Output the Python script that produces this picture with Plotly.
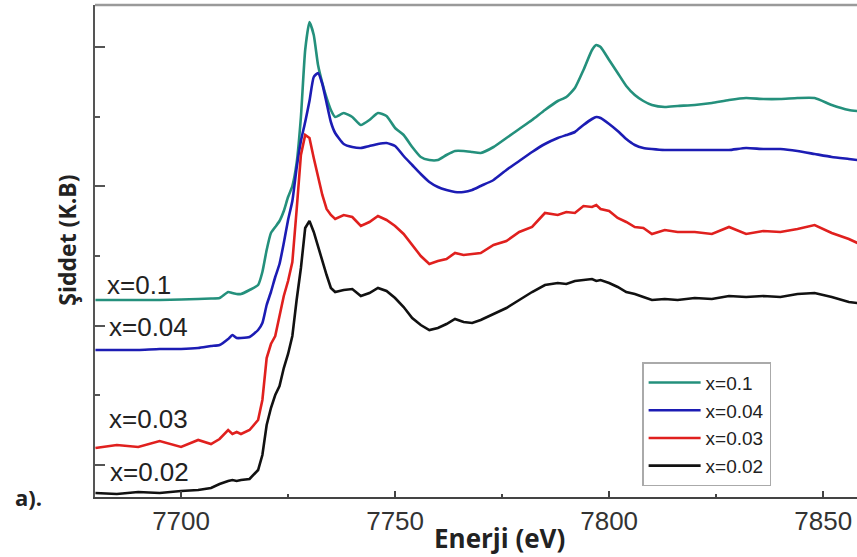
import plotly.graph_objects as go

# Photon energy grid (eV)
energy = [7680, 7685, 7690, 7695, 7700, 7704, 7707, 7709, 7711, 7712,
          7713, 7714, 7716, 7718, 7719, 7720, 7721, 7722, 7723, 7724,
          7725, 7726, 7727, 7728, 7729, 7730, 7731, 7732, 7733, 7734,
          7735, 7736, 7738, 7740, 7742, 7744, 7746, 7748, 7750, 7752,
          7754, 7756, 7758, 7760, 7762, 7764, 7766, 7768, 7770, 7773,
          7776, 7779, 7782, 7785, 7788, 7790, 7792, 7794, 7796, 7797,
          7798, 7800, 7802, 7804, 7806, 7808, 7810, 7813, 7816, 7820,
          7824, 7828, 7832, 7836, 7840, 7844, 7848, 7852, 7856, 7858]

# Stacked intensity (a.u.), one list per composition
int_x010 = [2.00, 2.00, 2.00, 2.00, 2.005, 2.01, 2.015, 2.02, 2.08, 2.07,
            2.06, 2.06, 2.10, 2.15, 2.28, 2.50, 2.67, 2.73, 2.79, 2.89,
            3.03, 3.14, 3.37, 3.83, 4.50, 4.78, 4.65, 4.35, 4.17, 4.02,
            3.90, 3.83, 3.87, 3.83, 3.75, 3.80, 3.87, 3.84, 3.72, 3.65,
            3.53, 3.43, 3.40, 3.40, 3.45, 3.49, 3.49, 3.48, 3.47, 3.53,
            3.62, 3.71, 3.80, 3.90, 3.99, 4.03, 4.12, 4.30, 4.50, 4.55,
            4.53, 4.40, 4.27, 4.14, 4.05, 3.99, 3.95, 3.93, 3.94, 3.95,
            3.97, 4.00, 4.02, 4.01, 4.01, 4.02, 4.02, 3.95, 3.90, 3.89]

int_x004 = [1.50, 1.50, 1.50, 1.51, 1.51, 1.52, 1.54, 1.55, 1.61, 1.65,
            1.62, 1.62, 1.63, 1.70, 1.77, 1.95, 2.08, 2.23, 2.36, 2.57,
            2.80, 2.99, 3.32, 3.59, 3.78, 3.99, 4.23, 4.27, 4.16, 3.97,
            3.78, 3.67, 3.56, 3.53, 3.52, 3.54, 3.56, 3.57, 3.54, 3.44,
            3.35, 3.26, 3.18, 3.13, 3.10, 3.08, 3.08, 3.10, 3.14, 3.20,
            3.30, 3.39, 3.48, 3.56, 3.62, 3.65, 3.68, 3.75, 3.81, 3.83,
            3.82, 3.76, 3.69, 3.61, 3.55, 3.52, 3.51, 3.50, 3.50, 3.50,
            3.50, 3.50, 3.52, 3.51, 3.51, 3.49, 3.46, 3.43, 3.41, 3.40]

int_x003 = [0.52, 0.55, 0.53, 0.59, 0.53, 0.60, 0.56, 0.61, 0.70, 0.66,
            0.68, 0.66, 0.70, 0.80, 1.00, 1.42, 1.56, 1.64, 1.84, 2.04,
            2.19, 2.38, 2.90, 3.45, 3.65, 3.62, 3.42, 3.24, 3.05, 2.91,
            2.85, 2.81, 2.85, 2.83, 2.74, 2.78, 2.84, 2.80, 2.74, 2.66,
            2.55, 2.44, 2.36, 2.39, 2.41, 2.47, 2.45, 2.46, 2.47, 2.55,
            2.59, 2.68, 2.73, 2.87, 2.85, 2.88, 2.87, 2.94, 2.93, 2.95,
            2.91, 2.89, 2.82, 2.78, 2.73, 2.72, 2.66, 2.70, 2.68, 2.68,
            2.66, 2.73, 2.66, 2.69, 2.68, 2.71, 2.75, 2.67, 2.61, 2.57]

int_x002 = [0.07, 0.06, 0.08, 0.07, 0.09, 0.10, 0.12, 0.16, 0.19, 0.20,
            0.19, 0.20, 0.21, 0.30, 0.45, 0.75, 0.92, 1.05, 1.14, 1.32,
            1.46, 1.64, 2.00, 2.32, 2.72, 2.79, 2.68, 2.53, 2.40, 2.25,
            2.12, 2.08, 2.10, 2.11, 2.04, 2.07, 2.12, 2.09, 2.02, 1.93,
            1.82, 1.75, 1.70, 1.72, 1.76, 1.81, 1.78, 1.77, 1.80, 1.86,
            1.92, 2.00, 2.08, 2.15, 2.17, 2.16, 2.19, 2.20, 2.21, 2.19,
            2.20, 2.17, 2.13, 2.08, 2.06, 2.03, 2.00, 2.01, 2.00, 2.02,
            2.01, 2.04, 2.03, 2.04, 2.03, 2.06, 2.07, 2.03, 1.98, 1.97]

series_names = ["x=0.1", "x=0.04", "x=0.03", "x=0.02"]
series_values = [int_x010, int_x004, int_x003, int_x002]
series_colors = ["#24907C", "#1C1CB4", "#E0201E", "#111111"]
series_smooth = [True, True, False, False]

x_ticks = [7700, 7750, 7800, 7850]

fig = go.Figure()
for name, vals, col, smooth in zip(series_names, series_values, series_colors, series_smooth):
    fig.add_trace(go.Scatter(
        x=energy, y=vals, name=name, mode="lines",
        line=dict(color=col, width=2.6,
                  shape="spline" if smooth else "linear",
                  smoothing=0.5 if smooth else None),
    ))

# Labels next to each baseline
label_pos = [(7682.2, 2.15), (7682.6, 1.73), (7682.6, 0.81), (7682.9, 0.28)]
for name, (lx, ly) in zip(series_names, label_pos):
    fig.add_annotation(x=lx, y=ly, xref="x", yref="y", text=name,
                       showarrow=False, xanchor="left", yanchor="middle",
                       font=dict(family="Liberation Sans, Arial", size=26, color="#222222"))

fig.add_annotation(x=0.531, y=-0.083, xref="paper", yref="paper",
                   text="<b>Enerji (eV)</b>", showarrow=False,
                   xanchor="center", yanchor="middle",
                   font=dict(family="Open Sans", size=26, color="#222222"))
fig.add_annotation(x=-0.036, y=0.522, xref="paper", yref="paper",
                   text="<b>Şiddet (K.B)</b>", showarrow=False, textangle=-90,
                   xanchor="center", yanchor="middle",
                   font=dict(family="Open Sans", size=23, color="#222222"))
fig.add_annotation(x=-0.108, y=0.0, xref="paper", yref="paper",
                   text="<b>a).</b>", showarrow=False,
                   xanchor="left", yanchor="middle",
                   font=dict(family="Open Sans", size=22, color="#222222"))

# Upper frame edge
fig.add_shape(type="line", xref="paper", yref="paper", x0=0, x1=1, y0=1, y1=1,
              line=dict(color="#9A9A9A", width=2.5))

fig.update_layout(
    width=857, height=557,
    margin=dict(l=95, r=0, t=5, b=60),
    paper_bgcolor="white", plot_bgcolor="white",
    showlegend=True,
    legend=dict(x=0.718, y=0.274, xanchor="left", yanchor="top",
                bgcolor="white", bordercolor="#AAAAAA", borderwidth=1.5,
                font=dict(family="Liberation Sans, Arial", size=19, color="#222222"),
                itemwidth=52, tracegroupgap=0),
    xaxis=dict(range=[7679.9, 7857.9], tickmode="array", tickvals=x_ticks,
               ticktext=[str(t) for t in x_ticks],
               ticks="inside", ticklen=6, tickwidth=1.5, tickcolor="#444444",
               minor=dict(ticks="inside", ticklen=3, tickwidth=1.5, tickcolor="#444444",
                          tickmode="array", tickvals=[7725, 7775, 7825]),
               showline=True, linecolor="#444444", linewidth=2,
               showgrid=False, zeroline=False,
               tickfont=dict(family="Liberation Sans, Arial", size=26, color="#333333")),
    yaxis=dict(range=[0.03, 4.95], tickmode="linear", tick0=0.35, dtick=1.393,
               showticklabels=False,
               ticks="inside", ticklen=10, tickwidth=1.5, tickcolor="#555555",
               minor=dict(ticks="inside", ticklen=5, tickwidth=1.5, tickcolor="#555555",
                          tick0=0.35, dtick=0.6965),
               showline=True, linecolor="#555555", linewidth=2,
               showgrid=False, zeroline=False),
)

fig.write_html("out.html")
